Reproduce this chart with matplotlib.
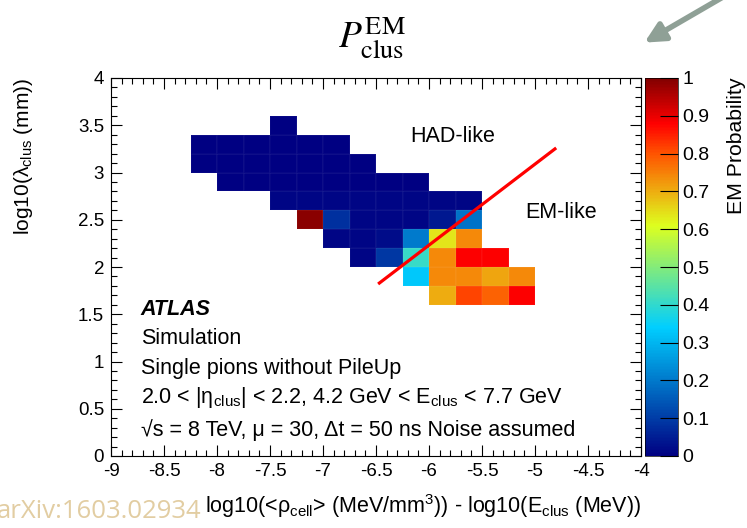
import numpy as np
import matplotlib
matplotlib.use("Agg")
import matplotlib.pyplot as plt
from matplotlib.colors import LinearSegmentedColormap
from matplotlib.ticker import MultipleLocator, AutoMinorLocator

plt.rcParams['font.family'] = ['Liberation Sans', 'DejaVu Sans']
plt.rcParams['mathtext.fontset'] = 'custom'
plt.rcParams['mathtext.rm'] = 'Liberation Sans'
plt.rcParams['mathtext.it'] = 'Liberation Sans:italic'
plt.rcParams['mathtext.bf'] = 'Liberation Sans:bold'

# bin edges of the 2D histogram
x_edges = np.arange(-8.25, -5.0 + 0.01, 0.25)
y_edges = np.arange(1.6, 3.6 + 0.01, 0.2)

# EM probability per cell, rows from y=1.6 (bottom) to y=3.6 (top),
# columns from x=-8.25 to x=-5.0; nan = empty bin
n = np.nan
em_prob = np.array([
    #  -8.25 -8.0 -7.75 -7.5 -7.25 -7.0 -6.75 -6.5 -6.25 -6.0 -5.75 -5.5 -5.25
    [n,    n,    n,    n,    n,    n,    n,    n,    n,    0.70, 0.815, 0.785, 0.88],  # 1.6-1.8
    [n,    n,    n,    n,    n,    n,    n,    n,    0.33, 0.74, 0.74, 0.71, 0.74],    # 1.8-2.0
    [n,    n,    n,    n,    n,    n,    0.01, 0.09, 0.41, 0.74, 0.88, 0.88, n],       # 2.0-2.2
    [n,    n,    n,    n,    n,    0.01, 0.01, 0.02, 0.20, 0.64, 0.74, n,    n],       # 2.2-2.4
    [n,    n,    n,    n,    0.99, 0.08, 0.01, 0.01, 0.01, 0.04, 0.19, n,    n],       # 2.4-2.6
    [n,    n,    n,    0.01, 0.01, 0.01, 0.01, 0.01, 0.01, 0.01, 0.01, n,    n],       # 2.6-2.8
    [n,    0.0,  0.0,  0.0,  0.0,  0.0,  0.0,  0.0,  0.0,  n,    n,    n,    n],       # 2.8-3.0
    [0.0,  0.0,  0.0,  0.0,  0.0,  0.0,  0.0,  n,    n,    n,    n,    n,    n],       # 3.0-3.2
    [0.0,  0.0,  0.0,  0.0,  0.0,  0.0,  n,    n,    n,    n,    n,    n,    n],       # 3.2-3.4
    [n,    n,    n,    0.0,  n,    n,    n,    n,    n,    n,    n,    n,    n],       # 3.4-3.6
])

# separating line between HAD-like and EM-like
line_x = [-6.48, -4.80]
line_y = [1.82, 3.26]

info_lines = [
    r'Simulation',
    r'Single pions without PileUp',
    r'2.0 < |η$_{\rm clus}$| < 2.2, 4.2 GeV < E$_{\rm clus}$ < 7.7 GeV',
    r'√s = 8 TeV, μ = 30, Δt = 50 ns Noise assumed',
]
info_y = [1.24, 0.93, 0.62, 0.28]

cbar_ticks = np.round(np.arange(0, 1.01, 0.1), 1)

# ROOT-like rainbow palette
root_rainbow = LinearSegmentedColormap.from_list('root_rainbow', [
    (0.00, (0.00, 0.00, 0.51)),
    (0.34, (0.00, 0.81, 1.00)),
    (0.61, (0.87, 1.00, 0.12)),
    (0.80, (1.00, 0.33, 0.00)),
    (0.88, (1.00, 0.00, 0.00)),
    (1.00, (0.51, 0.00, 0.00)),
])

fig = plt.figure(figsize=(7.47, 5.28), dpi=100)
ax = fig.add_axes([111 / 747, 1 - 456 / 528, 530 / 747, 378 / 528])
cax = fig.add_axes([645 / 747, 1 - 456 / 528, 33 / 747, 378 / 528])

mesh = ax.pcolormesh(x_edges, y_edges, np.ma.masked_invalid(em_prob),
                     cmap=root_rainbow, vmin=0, vmax=1,
                     edgecolors=(1, 1, 1, 0.03), linewidth=0.3)
ax.plot(line_x, line_y, color='#ff0000', lw=2.3, solid_capstyle='butt')

ax.set_xlim(-9, -4)
ax.set_ylim(0, 4)
ax.xaxis.set_major_locator(MultipleLocator(0.5))
ax.yaxis.set_major_locator(MultipleLocator(0.5))
ax.xaxis.set_minor_locator(AutoMinorLocator(5))
ax.yaxis.set_minor_locator(AutoMinorLocator(5))
ax.tick_params(which='both', direction='in', top=True, right=True, labelsize=13.5, width=0.8)
ax.tick_params(which='major', length=8)
ax.tick_params(which='minor', length=4)
ax.tick_params(axis='x', pad=5)
ax.tick_params(axis='y', pad=5)
ax.xaxis.set_major_formatter(plt.FuncFormatter(lambda v, p: f'{v:g}'))
ax.yaxis.set_major_formatter(plt.FuncFormatter(lambda v, p: f'{v:g}'))
for s in ax.spines.values():
    s.set_linewidth(0.8)

ax.set_xlabel(r'log10(<ρ$_{\rm cell}$> (MeV/mm$^{3}$)) - log10(E$_{\rm clus}$ (MeV))',
              fontsize=15.5, loc='right', labelpad=9)
ax.set_ylabel(r'log10(λ$_{\rm clus}$ (mm))', fontsize=15, loc='top', labelpad=31)

ax.text(-5.78, 3.38, 'HAD-like', fontsize=15.5, ha='center', va='center')
ax.text(-4.75, 2.58, 'EM-like', fontsize=15.5, ha='center', va='center')
ax.text(-8.72, 1.55, 'ATLAS', fontsize=15.5, fontweight='bold', fontstyle='italic', va='center')
for t, yy in zip(info_lines, info_y):
    ax.text(-8.72, yy, t, fontsize=15.5, va='center')

cb = fig.colorbar(mesh, cax=cax)
cb.set_ticks(cbar_ticks)
cb.set_ticklabels([f'{v:g}' for v in cbar_ticks])
cb.ax.tick_params(direction='in', length=13, width=0.8, labelsize=14, pad=3)
cb.outline.set_linewidth(0.5)
cb.ax.minorticks_off()
fig.text(737 / 747, 1 - 78 / 528, 'EM Probability', rotation=90, fontsize=15.3,
         ha='center', va='top')

fig.text(372 / 747, 1 - 37 / 528, r'$P^{\rm EM}_{\rm clus}$', fontsize=27,
         ha='center', va='center', math_fontfamily='stix')

fig.text(201 / 747, 1 - 512 / 528, 'arXiv:1603.02934', fontsize=18.5, color='#e2cda2',
         ha='right', va='center', family=['Open Sans', 'DejaVu Sans'])

ax.annotate('', xy=(642 / 747, 1 - 44 / 528), xytext=(735 / 747, 1 + 10 / 528),
            xycoords='figure fraction', textcoords='figure fraction',
            arrowprops=dict(arrowstyle='-|>', lw=4, color='#8fa096', mutation_scale=30),
            annotation_clip=False)

fig.savefig('out.png', dpi=100)
